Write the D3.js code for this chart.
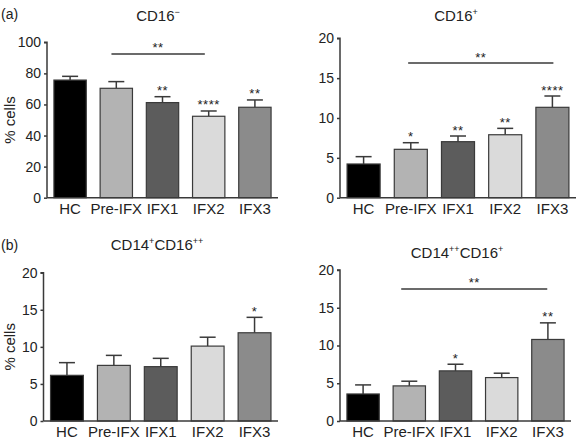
<!DOCTYPE html>
<html><head><meta charset="utf-8">
<script src="https://cdn.jsdelivr.net/npm/d3@7"></script>
<style>
body{margin:0;background:#fff;}
svg{display:block;font-family:"Liberation Sans",Arial,Helvetica,sans-serif;}
</style></head>
<body>
<svg id="chart" width="577" height="441"></svg>
<script>
const categories = ["HC","Pre-IFX","IFX1","IFX2","IFX3"];
const colors = ["#000000","#b3b3b3","#5c5c5c","#dadada","#8b8b8b"];

const cd16negMean = [75.7, 70.4, 61.2, 52.4, 58.2];
const cd16negErr  = [78.1, 74.7, 65.0, 55.8, 62.9];
const cd16negStars = ["", "", "**", "****", "**"];
const cd16negTicks = [0,20,40,60,80,100];

const cd16posMean = [4.23, 6.07, 7.03, 7.9, 11.34];
const cd16posErr  = [5.15, 6.9, 7.74, 8.7, 12.76];
const cd16posStars = ["", "*", "**", "**", "****"];

const cd14cd16ppMean = [6.16, 7.5, 7.33, 10.1, 11.9];
const cd14cd16ppErr  = [7.87, 8.85, 8.45, 11.3, 13.98];
const cd14cd16ppStars = ["", "", "", "", "*"];

const cd14ppcd16Mean = [3.58, 4.65, 6.64, 5.75, 10.8];
const cd14ppcd16Err  = [4.78, 5.27, 7.52, 6.33, 13.0];
const cd14ppcd16Stars = ["", "", "*", "", "**"];

const ticks20 = [0,5,10,15,20];

const svg = d3.select("#chart");
const ink = "#3a3a3a";

function panel(o){
  const g = svg.append("g");
  const y = d3.scaleLinear().domain([0, o.max]).range([o.y0, o.y1]);
  const x = d3.scaleBand().domain(categories).range([o.x0, o.x1]).paddingInner(0.3).paddingOuter(0.15);
  const bw = x.bandwidth();
  // error bars
  categories.forEach((c,i)=>{
    const cx = x(c)+bw/2;
    g.append("line").attr("x1",cx).attr("x2",cx).attr("y1",y(o.mean[i])).attr("y2",y(o.err[i]))
      .attr("stroke",ink).attr("stroke-width",1.5);
    g.append("line").attr("x1",cx-8).attr("x2",cx+8).attr("y1",y(o.err[i])).attr("y2",y(o.err[i]))
      .attr("stroke",ink).attr("stroke-width",1.5);
  });
  // bars
  g.selectAll("rect.bar").data(categories).enter().append("rect")
    .attr("x", c=>x(c)).attr("width", bw)
    .attr("y", (c,i)=>y(o.mean[i])).attr("height",(c,i)=>y(0)-y(o.mean[i]))
    .attr("fill",(c,i)=>colors[i]).attr("stroke",ink).attr("stroke-width",1.2);
  // stars
  categories.forEach((c,i)=>{
    if(!o.stars[i]) return;
    g.append("text").attr("x",x(c)+bw/2).attr("y",y(o.err[i])-1.5)
      .attr("text-anchor","middle").attr("font-size",13).attr("fill","#222").attr("letter-spacing","0.5").text(o.stars[i]);
  });
  // y axis
  const ya = g.append("g").attr("transform",`translate(${o.x0},0)`)
    .call(d3.axisLeft(y).tickValues(o.ticks).tickSize(3).tickPadding(3));
  ya.select(".domain").attr("stroke",ink).attr("stroke-width",1.5).attr("d",`M-3,${o.y1}H0V${o.y0}`);
  ya.selectAll(".tick line").attr("stroke",ink).attr("stroke-width",1.5);
  ya.selectAll(".tick text").attr("font-size",14).attr("fill","#222").attr("font-family","Liberation Sans, Arial, sans-serif");
  // x baseline
  g.append("line").attr("x1",o.x0).attr("x2",o.x1).attr("y1",o.y0).attr("y2",o.y0).attr("stroke",ink).attr("stroke-width",1.5);
  // x labels
  g.selectAll("text.xl").data(categories).enter().append("text")
    .attr("x",c=>x(c)+bw/2).attr("y",o.y0+16).attr("text-anchor","middle")
    .attr("font-size",15).attr("fill","#222").text(c=>c);
  // sig line
  if(o.sig){
    const s=o.sig;
    const xa = x(s.from)+bw*s.f1, xb = x(s.to)+bw*s.f2;
    g.append("line").attr("x1",xa).attr("x2",xb).attr("y1",y(s.level)).attr("y2",y(s.level))
      .attr("stroke",ink).attr("stroke-width",1.5);
    g.append("text").attr("x",(xa+xb)/2).attr("y",y(s.level)-1.5).attr("text-anchor","middle")
      .attr("font-size",13).attr("fill","#222").attr("letter-spacing","0.5").text(s.label);
  }
  // title
  const t = g.append("text").attr("x",o.tx).attr("y",o.ty).attr("text-anchor","middle").attr("font-size",15).attr("fill","#222");
  o.title.forEach(p=>{
    if(p.sup) t.append("tspan").attr("font-size",9).attr("dy",-6).text(p.t);
    else t.append("tspan").attr("dy",p.after?6:0).text(p.t);
  });
  if(o.ylab){
    g.append("text").attr("transform",`translate(15,${(o.y0+o.y1)/2}) rotate(-90)`).attr("text-anchor","middle")
      .attr("font-size",15).attr("fill","#222").text("% cells");
  }
  return g;
}

panel({x0:47,x1:278,y0:197.7,y1:42.3,max:100,ticks:cd16negTicks,mean:cd16negMean,err:cd16negErr,stars:cd16negStars,
  sig:{from:"Pre-IFX",to:"IFX2",f1:0.35,f2:0.38,level:92.5,label:"**"},
  tx:158,ty:21,title:[{t:"CD16"},{t:"\u2212",sup:true}],ylab:true});
panel({x0:340,x1:576,y0:197.7,y1:38.3,max:20,ticks:ticks20,mean:cd16posMean,err:cd16posErr,stars:cd16posStars,
  sig:{from:"Pre-IFX",to:"IFX3",f1:0.42,f2:0.53,level:16.9,label:"**"},
  tx:456,ty:21,title:[{t:"CD16"},{t:"+",sup:true}]});
panel({x0:43.5,x1:278,y0:421,y1:272.7,max:20,ticks:ticks20,mean:cd14cd16ppMean,err:cd14cd16ppErr,stars:cd14cd16ppStars,
  tx:157,ty:250,title:[{t:"CD14"},{t:"+",sup:true},{t:"CD16",after:true},{t:"++",sup:true}],ylab:true});
panel({x0:340,x1:571,y0:421,y1:270,max:20,ticks:ticks20,mean:cd14ppcd16Mean,err:cd14ppcd16Err,stars:cd14ppcd16Stars,
  sig:{from:"Pre-IFX",to:"IFX3",f1:0.25,f2:0.48,level:17.5,label:"**"},
  tx:457,ty:258,title:[{t:"CD14"},{t:"++",sup:true},{t:"CD16",after:true},{t:"+",sup:true}]});

svg.append("text").attr("x",1).attr("y",19).attr("font-size",14).attr("fill","#222").text("(a)");
svg.append("text").attr("x",1).attr("y",250).attr("font-size",14).attr("fill","#222").text("(b)");
</script>
</body></html>
